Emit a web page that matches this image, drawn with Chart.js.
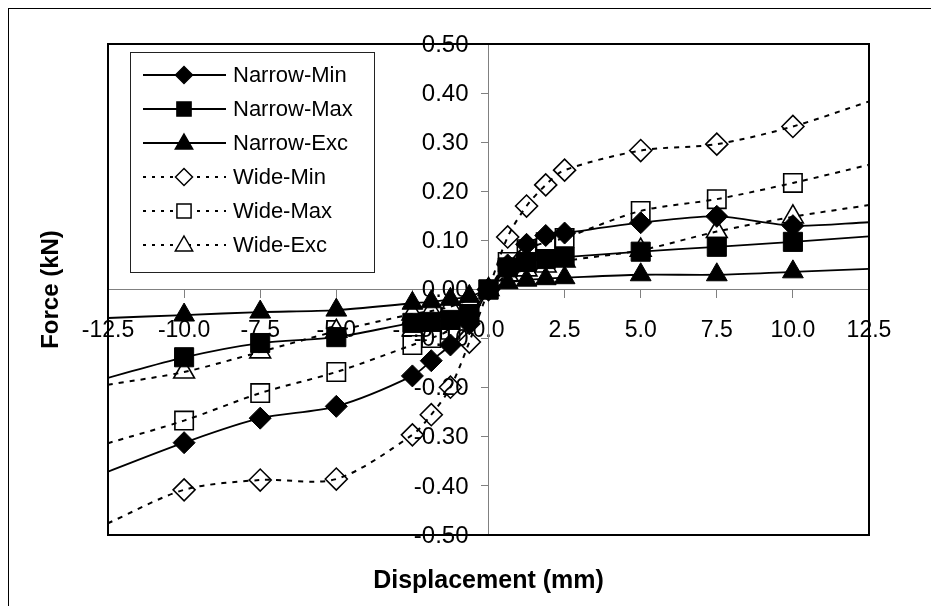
<!DOCTYPE html>
<html><head><meta charset="utf-8">
<script src="https://cdn.jsdelivr.net/npm/chart.js@4.4.1/dist/chart.umd.min.js"></script>
<style>html,body{margin:0;padding:0;background:#fff}#wrap{width:931px;height:606px;position:relative}canvas{display:block}</style>
</head><body><div id="wrap"><canvas id="c" width="931" height="606"></canvas></div>
<script>
// ---- data ----
const displacement = [-12.5, -10, -7.5, -5, -2.5, -1.88, -1.25, -0.63, 0, 0.63, 1.25, 1.88, 2.5, 5, 7.5, 10, 12.5];
const narrowMin = [-0.371, -0.312, -0.262, -0.238, -0.176, -0.145, -0.113, -0.07, 0, 0.05, 0.092, 0.110, 0.115, 0.136, 0.149, 0.130, 0.137];
const narrowMax = [-0.180, -0.138, -0.109, -0.097, -0.068, -0.066, -0.062, -0.050, 0, 0.045, 0.056, 0.062, 0.066, 0.077, 0.087, 0.097, 0.108];
const narrowExc = [-0.058, -0.052, -0.046, -0.042, -0.028, -0.025, -0.020, -0.014, 0, 0.014, 0.019, 0.022, 0.024, 0.030, 0.030, 0.036, 0.042];
const wideMin   = [-0.476, -0.408, -0.388, -0.386, -0.296, -0.255, -0.199, -0.107, 0, 0.107, 0.170, 0.213, 0.243, 0.283, 0.296, 0.332, 0.383];
const wideMax   = [-0.313, -0.267, -0.211, -0.168, -0.113, -0.099, -0.082, -0.050, 0, 0.056, 0.082, 0.096, 0.105, 0.160, 0.184, 0.217, 0.254];
const wideExc   = [-0.194, -0.168, -0.127, -0.085, -0.050, -0.044, -0.035, -0.020, 0, 0.030, 0.040, 0.048, 0.058, 0.080, 0.118, 0.148, 0.172];
const seriesNames = ['Narrow-Min', 'Narrow-Max', 'Narrow-Exc', 'Wide-Min', 'Wide-Max', 'Wide-Exc'];
const xTickLabels = ['-12.5', '-10.0', '-7.5', '-5.0', '-2.5', '0.0', '2.5', '5.0', '7.5', '10.0', '12.5'];
const yTickLabels = ['-0.50', '-0.40', '-0.30', '-0.20', '-0.10', '0.00', '0.10', '0.20', '0.30', '0.40', '0.50'];
const xTitle = 'Displacement (mm)';
const yTitle = 'Force (kN)';

// ---- styles ----
const FONT = '"Liberation Sans", Arial, sans-serif';
const seriesValues = [narrowMin, narrowMax, narrowExc, wideMin, wideMax, wideExc];
const styles = [
  {pt: 'rectRot', r: 11, filled: true, dash: []},
  {pt: 'rect', r: 13.5, filled: true, dash: []},
  {pt: 'triangle', r: 12, filled: true, dash: []},
  {pt: 'rectRot', r: 11, filled: false, dash: [5, 6]},
  {pt: 'rect', r: 13, filled: false, dash: [5, 6]},
  {pt: 'triangle', r: 12, filled: false, dash: [5, 6]}
];

const datasets = seriesNames.map((name, i) => {
  const s = styles[i];
  return {
    label: name,
    data: displacement.map((x, j) => ({x: x, y: seriesValues[i][j]})),
    borderColor: '#000',
    borderWidth: s.filled ? 1.8 : 2,
    borderDash: s.dash,
    tension: 0.3,
    pointStyle: s.pt,
    pointRadius: (c) => Math.abs(displacement[c.dataIndex]) >= 12.5 ? 0 : s.r,
    pointBackgroundColor: s.filled ? '#000' : 'rgba(0,0,0,0)',
    pointBorderColor: '#000',
    pointBorderWidth: s.filled ? 1 : 1.6,
    order: seriesNames.length - i,
    clip: 0
  };
});

function drawMarker(ctx, style, x, y, r, filled) {
  ctx.beginPath();
  if (style === 'rectRot') {
    ctx.moveTo(x - r, y); ctx.lineTo(x, y - r); ctx.lineTo(x + r, y); ctx.lineTo(x, y + r); ctx.closePath();
  } else if (style === 'rect') {
    const s = r * Math.SQRT1_2; ctx.rect(x - s, y - s, 2 * s, 2 * s);
  } else {
    ctx.moveTo(x, y - r); ctx.lineTo(x + r * 0.866, y + r * 0.5); ctx.lineTo(x - r * 0.866, y + r * 0.5); ctx.closePath();
  }
  ctx.setLineDash([]);
  ctx.fillStyle = filled ? '#000' : '#fff';
  ctx.fill();
  ctx.lineWidth = 1.5; ctx.strokeStyle = '#000'; ctx.stroke();
}

const decor = {
  id: 'decor',
  beforeDraw(chart) {
    const ctx = chart.ctx;
    ctx.save();
    ctx.fillStyle = '#fff'; ctx.fillRect(0, 0, chart.width, chart.height);
    ctx.strokeStyle = '#000'; ctx.lineWidth = 1;
    ctx.strokeRect(8.5, 8.5, 940, 620);
    ctx.restore();
  },
  beforeDatasetsDraw(chart) {
    // y tick labels, left of the centred y axis
    const ctx = chart.ctx, ys = chart.scales.y, xs = chart.scales.x;
    const ax = xs.getPixelForValue(0);
    ctx.save();
    ctx.fillStyle = '#000';
    ctx.font = '24px ' + FONT;
    ctx.textAlign = 'right'; ctx.textBaseline = 'middle';
    ys.ticks.forEach((t, i) => {
      ctx.fillText(yTickLabels[i], ax - 20, ys.getPixelForValue(t.value) + 1);
    });
    ctx.restore();
  },
  afterDraw(chart) {
    const ctx = chart.ctx, a = chart.chartArea;
    ctx.save();
    // plot frame
    ctx.strokeStyle = '#000'; ctx.lineWidth = 2; ctx.setLineDash([]);
    ctx.strokeRect(a.left, a.top, a.right - a.left, a.bottom - a.top);
    // legend
    const lx = 130, ly = 52, lw = 244, lh = 220;
    ctx.fillStyle = '#fff'; ctx.fillRect(lx, ly, lw, lh);
    ctx.strokeStyle = '#222'; ctx.lineWidth = 1; ctx.strokeRect(lx + 0.5, ly + 0.5, lw, lh);
    seriesNames.forEach((name, i) => {
      const s = styles[i];
      const y = 75 + i * 34;
      ctx.beginPath();
      ctx.strokeStyle = '#000';
      ctx.lineWidth = 2;
      ctx.setLineDash(s.filled ? [] : [3, 6]);
      ctx.moveTo(143, y); ctx.lineTo(226, y); ctx.stroke();
      drawMarker(ctx, s.pt, 184, y + (s.pt === 'triangle' ? 1 : 0), s.pt === 'rect' ? 10 : (s.pt === 'triangle' ? 10 : 8.5), s.filled);
      ctx.fillStyle = '#000';
      ctx.font = '22px ' + FONT;
      ctx.textAlign = 'left'; ctx.textBaseline = 'middle';
      ctx.fillText(name, 233, y + 1);
    });
    // axis titles
    ctx.fillStyle = '#000';
    ctx.textAlign = 'center'; ctx.textBaseline = 'middle';
    ctx.font = 'bold 25px ' + FONT;
    ctx.fillText(xTitle, (a.left + a.right) / 2, 581);
    ctx.font = 'bold 24px ' + FONT;
    ctx.translate(51, (a.top + a.bottom) / 2);
    ctx.rotate(-Math.PI / 2);
    ctx.fillText(yTitle, 0, 0);
    ctx.restore();
  }
};

new Chart(document.getElementById('c'), {
  type: 'line',
  data: {datasets: datasets},
  plugins: [decor],
  options: {
    responsive: false, animation: false, devicePixelRatio: 1,
    layout: {padding: {left: 108, top: 44, right: 62, bottom: 71}},
    plugins: {legend: {display: false}, tooltip: {enabled: false}},
    scales: {
      x: {
        type: 'linear', position: {y: 0}, min: -12.5, max: 12.5,
        afterFit: (s) => { s.height = 0; },
        ticks: {stepSize: 2.5, autoSkip: false, maxRotation: 0, padding: 19, color: '#000',
          font: {family: FONT, size: 23},
          callback: (v, i) => xTickLabels[i]},
        grid: {drawOnChartArea: false, color: '#808080', tickLength: 8},
        border: {color: '#808080', width: 1}
      },
      y: {
        type: 'linear', position: {x: 0}, min: -0.5, max: 0.5,
        afterFit: (s) => { s.width = 0; },
        ticks: {stepSize: 0.1, autoSkip: false, padding: 14, color: 'rgba(0,0,0,0)',
          font: {family: FONT, size: 23},
          callback: (v, i) => yTickLabels[i]},
        grid: {drawOnChartArea: false, color: '#808080', tickLength: 7},
        border: {color: '#808080', width: 1}
      }
    }
  }
});
</script></body></html>
